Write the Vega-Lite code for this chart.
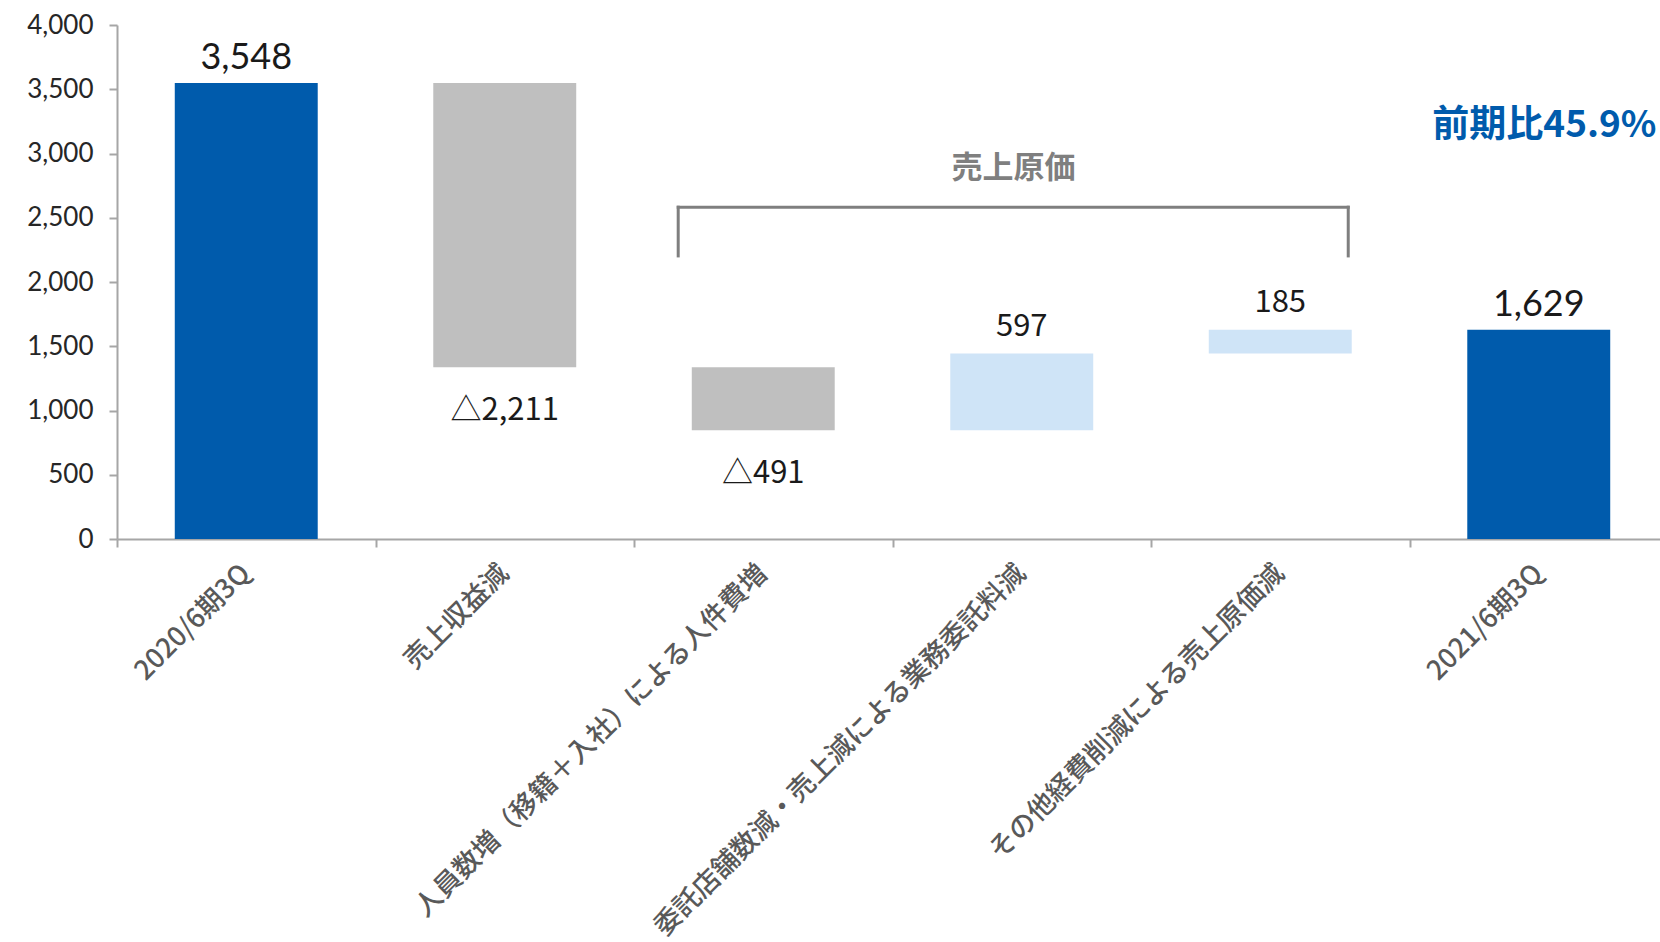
{
  "$schema": "https://vega.github.io/schema/vega-lite/v6.json",
  "autosize": {"type": "none"},
  "padding": {"left": 117, "top": 25, "right": 0, "bottom": 403},
  "width": 1543,
  "height": 514,
  "background": "white",
  "config": {"view": {"stroke": null}, "font": "Lato"},
  "data": {
    "values": [
      {"cat": "2020/6期3Q", "lo": 0, "hi": 3548, "kind": "total", "label": "3,548", "pos": "above"},
      {"cat": "売上収益減", "lo": 1337, "hi": 3548, "kind": "decrease", "label": "△2,211", "pos": "below"},
      {"cat": "人員数増（移籍＋入社）による人件費増", "lo": 846, "hi": 1337, "kind": "decrease", "label": "△491", "pos": "below"},
      {"cat": "委託店舗数減・売上減による業務委託料減", "lo": 846, "hi": 1443, "kind": "increase", "label": "597", "pos": "above"},
      {"cat": "その他経費削減による売上原価減", "lo": 1443, "hi": 1628, "kind": "increase", "label": "185", "pos": "above"},
      {"cat": "2021/6期3Q", "lo": 0, "hi": 1629, "kind": "total", "label": "1,629", "pos": "above"}
    ]
  },
  "resolve": {"scale": {"x": "independent"}, "axis": {"x": "independent"}},
  "layer": [
    {
      "encoding": {
        "x": {
          "field": "cat", "type": "nominal", "sort": null,
          "scale": {
            "domain": ["2020/6期3Q", "売上収益減", "人員数増（移籍＋入社）による人件費増", "委託店舗数減・売上減による業務委託料減", "その他経費削減による売上原価減", "2021/6期3Q"],
            "range": [0, 1551], "paddingInner": 0.447, "paddingOuter": 0.2235
          },
          "axis": {
            "title": null, "orient": "bottom", "labelAngle": -45, "labelAlign": "right", "labelBaseline": "middle",
            "labelFontSize": 27, "labelFontWeight": 500, "labelColor": "#595959", "labelFont": "Noto Sans CJK JP",
            "ticks": false, "domainColor": "#A6A6A6", "domainWidth": 2, "labelPadding": 30,
            "labelLimit": 1000, "labelOverlap": false
          }
        },
        "y": {
          "field": "lo", "type": "quantitative",
          "scale": {"domain": [0, 4000], "nice": false, "zero": true},
          "axis": {
            "title": null, "values": [0, 500, 1000, 1500, 2000, 2500, 3000, 3500, 4000], "format": ",.0f",
            "labelFontSize": 26, "labelColor": "#262626", "labelFont": "Lato",
            "tickSize": 8, "tickColor": "#A6A6A6", "tickWidth": 2,
            "domainColor": "#A6A6A6", "domainWidth": 2, "grid": false, "labelPadding": 16
          }
        }
      },
      "layer": [
        {
          "mark": {"type": "bar"},
          "encoding": {
            "y2": {"field": "hi"},
            "color": {
              "field": "kind", "type": "nominal",
              "scale": {"domain": ["total", "decrease", "increase"], "range": ["#005BAC", "#BFBFBF", "#CFE4F7"]},
              "legend": null
            }
          }
        },
        {
          "transform": [{"filter": "datum.kind === 'total'"}],
          "mark": {"type": "text", "font": "Lato", "fontSize": 36, "color": "#1A1A1A", "baseline": "alphabetic", "align": "center", "dy": -14},
          "encoding": {"y": {"field": "hi", "type": "quantitative"}, "text": {"field": "label"}}
        },
        {
          "transform": [{"filter": "datum.kind === 'increase'"}],
          "mark": {"type": "text", "font": "Noto Sans CJK JP", "fontSize": 31, "color": "#1A1A1A", "baseline": "alphabetic", "align": "center", "dy": -18},
          "encoding": {"y": {"field": "hi", "type": "quantitative"}, "text": {"field": "label"}}
        },
        {
          "transform": [{"filter": "datum.pos === 'below'"}],
          "mark": {"type": "text", "font": "Noto Sans CJK JP", "fontSize": 31, "color": "#1A1A1A", "baseline": "alphabetic", "align": "center", "dy": 53},
          "encoding": {"y": {"field": "lo", "type": "quantitative"}, "text": {"field": "label"}}
        }
      ]
    },
    {
      "data": {"values": [{}]},
      "layer": [
        {
          "mark": {"type": "rule", "color": "#7F7F7F", "strokeWidth": 3, "strokeCap": "square"},
          "encoding": {
            "x": {
              "datum": 2.171, "type": "quantitative",
              "scale": {"domain": [0, 6], "range": [0, 1551], "nice": false, "zero": false},
              "axis": {"orient": "bottom", "values": [0, 1, 2, 3, 4, 5, 6], "labels": false, "domain": false, "grid": false, "tickSize": 8, "tickColor": "#A6A6A6", "tickWidth": 2, "title": null}
            },
            "x2": {"datum": 4.763},
            "y": {"datum": 2582, "type": "quantitative", "scale": {"domain": [0, 4000], "nice": false}}
          }
        },
        {
          "mark": {"type": "rule", "color": "#7F7F7F", "strokeWidth": 3, "strokeCap": "square"},
          "encoding": {
            "x": {"datum": 2.171, "type": "quantitative"},
            "y": {"datum": 2203, "type": "quantitative"},
            "y2": {"datum": 2582}
          }
        },
        {
          "mark": {"type": "rule", "color": "#7F7F7F", "strokeWidth": 3, "strokeCap": "square"},
          "encoding": {
            "x": {"datum": 4.763, "type": "quantitative"},
            "y": {"datum": 2203, "type": "quantitative"},
            "y2": {"datum": 2582}
          }
        },
        {
          "mark": {"type": "text", "font": "Noto Sans CJK JP", "fontWeight": "bold", "fontSize": 31, "color": "#7F7F7F", "align": "center", "baseline": "middle", "text": "売上原価"},
          "encoding": {
            "x": {"datum": 3.468, "type": "quantitative"},
            "y": {"datum": 2879, "type": "quantitative"}
          }
        },
        {
          "mark": {"type": "text", "font": "Noto Sans CJK JP", "fontWeight": "bold", "fontSize": 37, "color": "#005BAC", "align": "center", "baseline": "middle", "text": "前期比45.9%"},
          "encoding": {
            "x": {"datum": 5.522, "type": "quantitative"},
            "y": {"datum": 3217, "type": "quantitative"}
          }
        }
      ]
    }
  ]
}
